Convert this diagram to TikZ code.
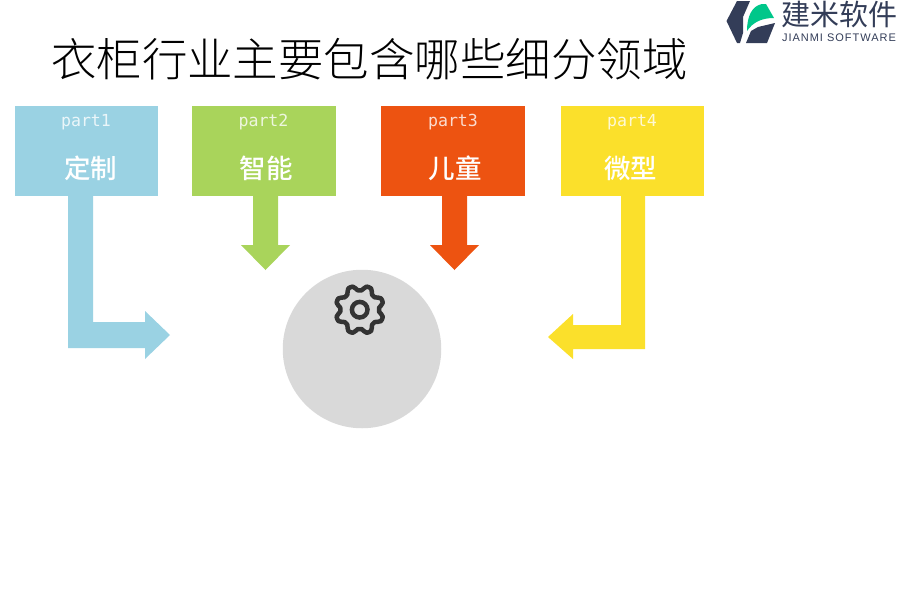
\documentclass[tikz,border=0pt]{standalone}
\usepackage{fontspec}
\setmainfont{Liberation Sans}
\newfontfamily\cjk{Noto Sans CJK SC Medium}
\newfontfamily\cjkreg{Noto Sans CJK SC}
\newfontfamily\cjklight{Noto Sans CJK SC Light}
\newfontfamily\monof{DejaVu Sans Mono}
\newfontfamily\spaced[LetterSpace=9]{Liberation Sans}
\definecolor{cblue}{HTML}{9AD2E3}
\definecolor{cgreen}{HTML}{A9D45B}
\definecolor{corange}{HTML}{ED5311}
\definecolor{cyellow}{HTML}{FBE02B}
\definecolor{cgray}{HTML}{D9D9D9}
\definecolor{cgear}{HTML}{333333}
\definecolor{navy}{HTML}{333D58}
\definecolor{lgreen}{HTML}{00C78A}
\tikzset{
  partbox/.style={minimum width=#1,minimum height=90pt,inner sep=0pt,anchor=north west},
  parttag/.style={text=white,opacity=.8,font=\monof\fontsize{16.6}{16.6}\selectfont},
  partname/.style={text=white,font=\cjk\fontsize{26.5}{26.5}\selectfont},
}
\begin{document}
\begin{tikzpicture}[x=1pt,y=-1pt]
\useasboundingbox (0,0) rectangle (900,600);
\node[font=\cjklight\fontsize{45.5}{45.5}\selectfont] (title) at (369.5,59) {衣柜行业主要包含哪些细分领域};
% boxes
\node[partbox=143pt,fill=cblue] (b1) at (15,106) {};
\node[partbox=144pt,fill=cgreen] (b2) at (192,106) {};
\node[partbox=144pt,fill=corange] (b3) at (381,106) {};
\node[partbox=143pt,fill=cyellow] (b4) at (561,106) {};
\node[parttag] (t1) at (86,122) {part1};
\node[parttag] (t2) at (263.5,122) {part2};
\node[parttag] (t3) at (453,122) {part3};
\node[parttag] (t4) at (632,122) {part4};
\node[partname] (n1) at (90.5,168) {定制};
\node[partname] (n2) at (266,168) {智能};
\node[partname] (n3) at (455,168) {儿童};
\node[partname] (n4) at (630.5,168) {微型};
% arrows
\fill[cblue] (68,196)--(93,196)--(93,322)--(145,322)--(145,311)--(170,335)--(145,359)--(145,348)--(68,348)--cycle;
\fill[cgreen] (253,196)--(278,196)--(278,245)--(290,245)--(265.5,270)--(241,245)--(253,245)--cycle;
\fill[corange] (442,196)--(467,196)--(467,245)--(479,245)--(454.5,270)--(430,245)--(442,245)--cycle;
\fill[cyellow] (621,196)--(645,196)--(645,349)--(573,349)--(573,359)--(548,337)--(573,314)--(573,325)--(621,325)--cycle;
% circle
\node[circle,fill=cgray,minimum size=158.5pt,inner sep=0pt] (c) at (362,349) {};
% gear
\draw[cgear,line width=4.5pt,line join=round] plot[smooth cycle,samples=64,domain=0:354.375,variable=\t] ({359.7+(21.8+2.9*cos(8*\t+180)-0.4*cos(24*\t+180))*cos(\t)},{309.7+(21.8+2.9*cos(8*\t+180)-0.4*cos(24*\t+180))*sin(\t)});
\draw[cgear,line width=4.5pt] (359.7,309.7) circle (7.8);
% logo
\fill[navy] (737,1)--(750,1)--(743,17)--(743,33)--(740,43)--(737,43)--(726.5,21)--cycle;
\fill[navy] (746,43)--(751,31)--(758,27)--(775,23)--(767,43)--cycle;
\fill[lgreen] (747,31) .. controls (747,16) and (752,6) .. (762,4) -- (766,4) -- (774,18) .. controls (762,18) and (753,22) .. (747,31) -- cycle;
\node[text=navy,font=\cjkreg\fontsize{29}{29}\selectfont,inner sep=0pt] (l1) at (839.5,14) {建米软件};
\node[text=navy,font=\spaced\fontsize{11}{11}\selectfont,inner sep=0pt] (l2) at (839,38) {JIANMI SOFTWARE};
\end{tikzpicture}
\end{document}
